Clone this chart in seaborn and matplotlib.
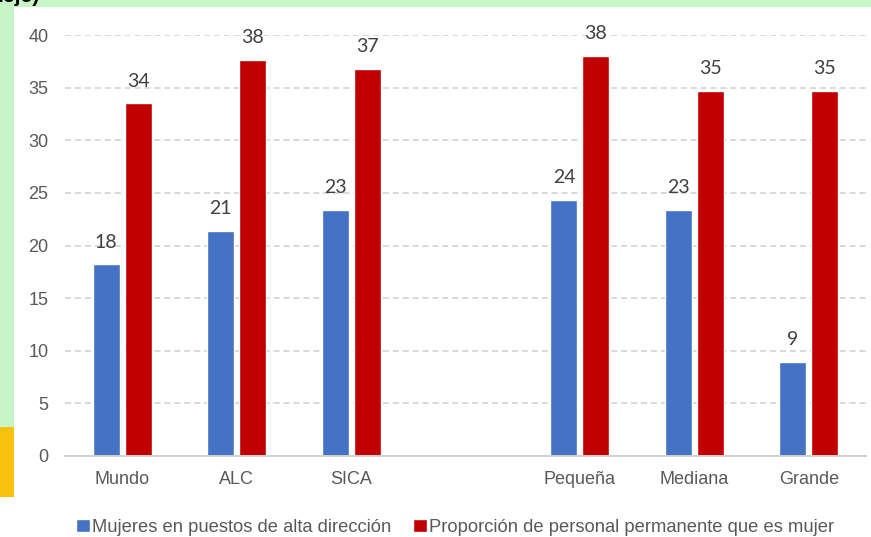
import matplotlib
matplotlib.use("Agg")
import matplotlib.pyplot as plt
import seaborn as sns
import pandas as pd
from matplotlib.patches import Rectangle

categories = ["Mundo", "ALC", "SICA", " ", "Pequeña", "Mediana", "Grande"]
series_names = ["Mujeres en puestos de alta dirección",
                "Proporción de personal permanente que es mujer"]
mujeres_alta_direccion = [18.2, 21.4, 23.4, None, 24.3, 23.4, 8.9]
personal_permanente = [33.5, 37.6, 36.8, None, 38.0, 34.7, 34.7]
label_mujeres = ["18", "21", "23", None, "24", "23", "9"]
label_personal = ["34", "38", "37", None, "38", "35", "35"]
y_ticks = [0, 5, 10, 15, 20, 25, 30, 35, 40]

rows = []
for c, a, b in zip(categories, mujeres_alta_direccion, personal_permanente):
    if a is not None:
        rows.append({"cat": c, "serie": series_names[0], "val": a})
        rows.append({"cat": c, "serie": series_names[1], "val": b})
df = pd.DataFrame(rows)

sns.set_theme(style="white")
plt.rcParams["font.family"] = ["Liberation Sans", "DejaVu Sans"]

fig = plt.figure(figsize=(8.71, 5.37), dpi=100)
fig.patch.set_facecolor("white")
ax = fig.add_axes([65/871, 1-456/537, (866-65)/871, (456-35)/537])

colors = ["#4472C4", "#C00000"]
sns.barplot(data=df, x="cat", y="val", hue="serie", order=categories,
            hue_order=series_names, palette=colors, width=0.56, gap=0.16,
            saturation=1, ax=ax, legend=True)

ax.set_ylim(0, 40)
ax.set_xlim(-0.5, len(categories) - 0.5)
ax.set_yticks(y_ticks)
ax.set_yticklabels([str(t) for t in y_ticks])
ax.yaxis.grid(True, linestyle=(0, (4, 2.5)), color="#d0d0d0", linewidth=1.1)
ax.set_axisbelow(True)
for s in ["top", "right", "left"]:
    ax.spines[s].set_visible(False)
ax.spines["bottom"].set_color("#d0d0d0")
ax.spines["bottom"].set_linewidth(1.4)
ax.tick_params(axis="both", length=0, labelsize=13, colors="#595959")
ax.tick_params(axis="y", pad=12)
ax.tick_params(axis="x", pad=11)
ax.set_xlabel("")
ax.set_ylabel("")

for cont, labs in zip(ax.containers, [label_mujeres, label_personal]):
    labs_clean = [l for l in labs if l is not None]
    ax.bar_label(cont, labels=labs_clean, padding=10, fontsize=14,
                 color="#404040", family=["Lato", "DejaVu Sans"])

leg = ax.legend(loc="upper center", bbox_to_anchor=(0.487, -0.11), ncol=2,
                frameon=False, fontsize=13.2, handlelength=0.75,
                handleheight=0.75, handletextpad=0.1, columnspacing=1.2,
                labelcolor="#595959")

# decorative frame elements from the screenshot
fig.add_artist(Rectangle((0, 1-7/537), 1, 7/537, transform=fig.transFigure,
                         facecolor="#c6f5c6", edgecolor="none", zorder=0))
fig.add_artist(Rectangle((0, 1-427/537), 14/871, 427/537, transform=fig.transFigure,
                         facecolor="#c6f5c6", edgecolor="none", zorder=0))
fig.add_artist(Rectangle((0, 1-497/537), 14/871, 70/537, transform=fig.transFigure,
                         facecolor="#f9c10e", edgecolor="none", zorder=0))
fig.text(-2/871, 1+3/537, "ieje)", fontsize=15, fontweight="bold", color="black",
         va="center", ha="left")

fig.savefig("out.png", dpi=100)
